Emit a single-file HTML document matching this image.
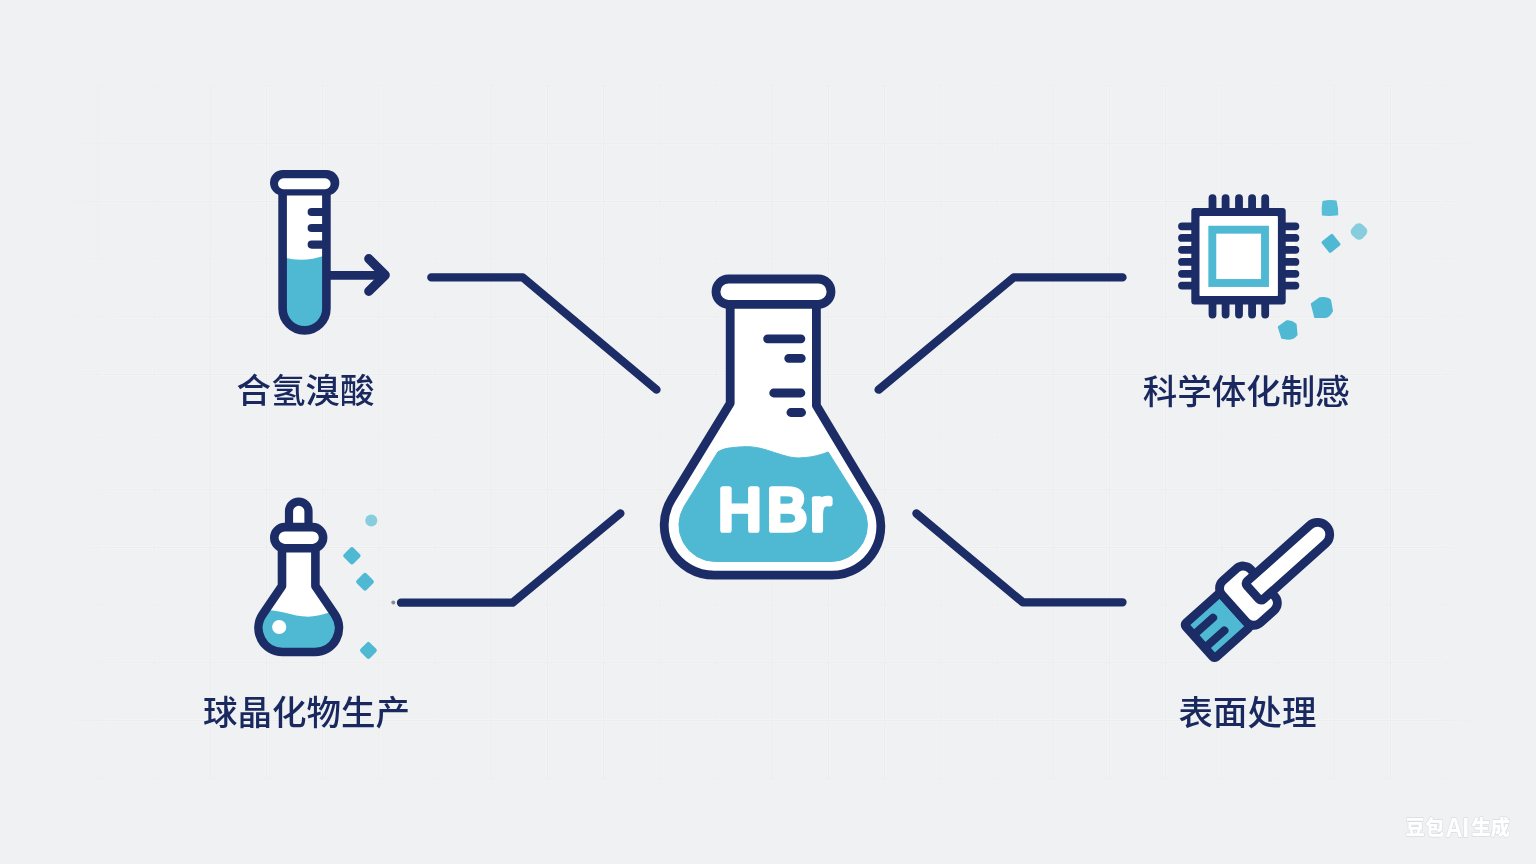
<!DOCTYPE html>
<html lang="zh-CN">
<head>
<meta charset="utf-8">
<title>HBr 应用示意图</title>
<style>
html,body{margin:0;padding:0;width:1536px;height:864px;overflow:hidden;background:#f0f1f2}
svg{display:block;position:absolute;left:0;top:0;will-change:transform;opacity:0.999}
text{font-family:"Liberation Sans","Noto Sans CJK SC",sans-serif}
</style>
</head>
<body>
<svg width="1536" height="864" viewBox="0 0 1536 864">
<defs>
<linearGradient id="fh" x1="0" x2="1536" y1="0" y2="0" gradientUnits="userSpaceOnUse"><stop offset="0" stop-color="#000"/><stop offset="0.035" stop-color="#000"/><stop offset="0.075" stop-color="#fff"/><stop offset="0.93" stop-color="#fff"/><stop offset="0.965" stop-color="#000"/><stop offset="1" stop-color="#000"/></linearGradient>
<mask id="gm" maskUnits="userSpaceOnUse" x="0" y="0" width="1536" height="864"><rect x="0" y="85" width="1536" height="694" fill="url(#fh)"/></mask>
</defs>
<rect width="1536" height="864" fill="#f0f1f2"/>
<g mask="url(#gm)"><g stroke="#fff" stroke-width="2.6" opacity="0.26"><line x1="41.6" y1="0" x2="41.6" y2="864"/><line x1="97.8" y1="0" x2="97.8" y2="864"/><line x1="154.0" y1="0" x2="154.0" y2="864"/><line x1="210.2" y1="0" x2="210.2" y2="864"/><line x1="266.4" y1="0" x2="266.4" y2="864"/><line x1="322.6" y1="0" x2="322.6" y2="864"/><line x1="378.8" y1="0" x2="378.8" y2="864"/><line x1="435.0" y1="0" x2="435.0" y2="864"/><line x1="491.2" y1="0" x2="491.2" y2="864"/><line x1="547.4" y1="0" x2="547.4" y2="864"/><line x1="603.6" y1="0" x2="603.6" y2="864"/><line x1="659.8" y1="0" x2="659.8" y2="864"/><line x1="716.0" y1="0" x2="716.0" y2="864"/><line x1="772.2" y1="0" x2="772.2" y2="864"/><line x1="828.4" y1="0" x2="828.4" y2="864"/><line x1="884.6" y1="0" x2="884.6" y2="864"/><line x1="940.8" y1="0" x2="940.8" y2="864"/><line x1="997.0" y1="0" x2="997.0" y2="864"/><line x1="1053.2" y1="0" x2="1053.2" y2="864"/><line x1="1109.4" y1="0" x2="1109.4" y2="864"/><line x1="1165.6" y1="0" x2="1165.6" y2="864"/><line x1="1221.8" y1="0" x2="1221.8" y2="864"/><line x1="1278.0" y1="0" x2="1278.0" y2="864"/><line x1="1334.2" y1="0" x2="1334.2" y2="864"/><line x1="1390.4" y1="0" x2="1390.4" y2="864"/><line x1="1446.6" y1="0" x2="1446.6" y2="864"/><line x1="1502.8" y1="0" x2="1502.8" y2="864"/><line x1="0" y1="28.4" x2="1536" y2="28.4"/><line x1="0" y1="86.1" x2="1536" y2="86.1"/><line x1="0" y1="143.7" x2="1536" y2="143.7"/><line x1="0" y1="201.4" x2="1536" y2="201.4"/><line x1="0" y1="259.1" x2="1536" y2="259.1"/><line x1="0" y1="316.8" x2="1536" y2="316.8"/><line x1="0" y1="374.4" x2="1536" y2="374.4"/><line x1="0" y1="432.1" x2="1536" y2="432.1"/><line x1="0" y1="489.8" x2="1536" y2="489.8"/><line x1="0" y1="547.4" x2="1536" y2="547.4"/><line x1="0" y1="605.1" x2="1536" y2="605.1"/><line x1="0" y1="662.8" x2="1536" y2="662.8"/><line x1="0" y1="720.4" x2="1536" y2="720.4"/><line x1="0" y1="778.1" x2="1536" y2="778.1"/><line x1="0" y1="835.8" x2="1536" y2="835.8"/></g><g stroke="#d4d6db" stroke-width="0.9" opacity="0.3"><line x1="41.6" y1="0" x2="41.6" y2="864"/><line x1="97.8" y1="0" x2="97.8" y2="864"/><line x1="154.0" y1="0" x2="154.0" y2="864"/><line x1="210.2" y1="0" x2="210.2" y2="864"/><line x1="266.4" y1="0" x2="266.4" y2="864"/><line x1="322.6" y1="0" x2="322.6" y2="864"/><line x1="378.8" y1="0" x2="378.8" y2="864"/><line x1="435.0" y1="0" x2="435.0" y2="864"/><line x1="491.2" y1="0" x2="491.2" y2="864"/><line x1="547.4" y1="0" x2="547.4" y2="864"/><line x1="603.6" y1="0" x2="603.6" y2="864"/><line x1="659.8" y1="0" x2="659.8" y2="864"/><line x1="716.0" y1="0" x2="716.0" y2="864"/><line x1="772.2" y1="0" x2="772.2" y2="864"/><line x1="828.4" y1="0" x2="828.4" y2="864"/><line x1="884.6" y1="0" x2="884.6" y2="864"/><line x1="940.8" y1="0" x2="940.8" y2="864"/><line x1="997.0" y1="0" x2="997.0" y2="864"/><line x1="1053.2" y1="0" x2="1053.2" y2="864"/><line x1="1109.4" y1="0" x2="1109.4" y2="864"/><line x1="1165.6" y1="0" x2="1165.6" y2="864"/><line x1="1221.8" y1="0" x2="1221.8" y2="864"/><line x1="1278.0" y1="0" x2="1278.0" y2="864"/><line x1="1334.2" y1="0" x2="1334.2" y2="864"/><line x1="1390.4" y1="0" x2="1390.4" y2="864"/><line x1="1446.6" y1="0" x2="1446.6" y2="864"/><line x1="1502.8" y1="0" x2="1502.8" y2="864"/><line x1="0" y1="28.4" x2="1536" y2="28.4"/><line x1="0" y1="86.1" x2="1536" y2="86.1"/><line x1="0" y1="143.7" x2="1536" y2="143.7"/><line x1="0" y1="201.4" x2="1536" y2="201.4"/><line x1="0" y1="259.1" x2="1536" y2="259.1"/><line x1="0" y1="316.8" x2="1536" y2="316.8"/><line x1="0" y1="374.4" x2="1536" y2="374.4"/><line x1="0" y1="432.1" x2="1536" y2="432.1"/><line x1="0" y1="489.8" x2="1536" y2="489.8"/><line x1="0" y1="547.4" x2="1536" y2="547.4"/><line x1="0" y1="605.1" x2="1536" y2="605.1"/><line x1="0" y1="662.8" x2="1536" y2="662.8"/><line x1="0" y1="720.4" x2="1536" y2="720.4"/><line x1="0" y1="778.1" x2="1536" y2="778.1"/><line x1="0" y1="835.8" x2="1536" y2="835.8"/></g></g>
<g fill="none" stroke="#1b2c67" stroke-width="8.3" stroke-linecap="round" stroke-linejoin="round"><polyline points="431.3,277.4 522.7,277.4 656.5,389.6"/><polyline points="401,602.7 512.5,602.7 620.4,513.4"/><polyline points="878.6,389.7 1013.8,277.4 1122.5,277.4"/><polyline points="916.4,513.5 1022.8,602.3 1122.5,602.3"/></g>
<circle cx="393.3" cy="602.4" r="2" fill="#8a8d94"/>
<g>
<path d="M282.5,190 V308.5 a22,22 0 0 0 44,0 V190 Z" fill="#fff"/>
<path d="M284,257.6 Q304,262.8 325,255.6 V308.5 a20.5,20.5 0 0 1 -41,0 Z" fill="#4fb9d4"/>
<g fill="none" stroke="#1b2c67" stroke-linecap="round" stroke-linejoin="round">
<path d="M282.6,190 V308.5 a21.9,21.9 0 0 0 43.8,0 V190" stroke-width="8.6"/>
<path d="M311.7,212 H324 M311.7,228 H324 M311.7,244.6 H324" stroke-width="8.2"/>
<path d="M330,275.4 H384" stroke-width="8.8"/>
<path d="M368.8,258.7 L385.2,275.1 L368.8,291.3" stroke-width="9.3"/>
</g>
<rect x="270" y="170" width="69.3" height="25.4" rx="12.7" fill="#1b2c67"/>
<rect x="278" y="178.3" width="52.6" height="10.9" rx="5.45" fill="#fff"/>
</g>
<g>
<path d="M730.20,304.00 V403.30 L671.57,499.10 A50.00,50.00 0 0 0 714.22,575.20 H832.03 A48.80,48.80 0 0 0 873.88,501.29 L816.40,405.50 V304.00 Z" fill="#fff"/>
<path d="M718.10,451.60 C719.65,451.05 722.72,449.12 727.40,448.30 C732.08,447.48 740.72,446.70 746.20,446.70 C751.68,446.70 755.62,447.33 760.30,448.30 C764.98,449.27 769.62,451.10 774.30,452.50 C778.98,453.90 784.18,455.80 788.40,456.70 C792.62,457.60 795.70,457.90 799.60,457.90 C803.50,457.90 808.20,457.28 811.80,456.70 C815.40,456.12 818.47,455.18 821.20,454.40 C823.93,453.62 827.03,452.40 828.20,452.00 L861.98,505.92 A36.4,36.4 0 0 1 831.04,561.5 H715.36 A36.4,36.4 0 0 1 684.42,505.92 Z" fill="#4fb9d4" stroke="#4fb9d4" stroke-width="1" stroke-linejoin="round"/>
<g fill="none" stroke="#1b2c67" stroke-linecap="round" stroke-linejoin="round">
<path d="M730.20,304.00 V403.30 L671.57,499.10 A50.00,50.00 0 0 0 714.22,575.20 H832.03 A48.80,48.80 0 0 0 873.88,501.29 L816.40,405.50 V304.00" stroke-width="8.8"/>
<path d="M767.6,338.8 H800.9 M788.7,358.3 H801.3 M773.7,393 H800.9 M790.9,412.5 H801.6" stroke-width="8.8"/>
<rect x="716" y="279" width="115" height="25.4" rx="12.7" fill="#fff" stroke-width="8.8"/>
</g>
<text transform="scale(1.05 1.04)" x="684.00 730.38 772.10" y="510.10" font-size="57" font-weight="400" fill="#fff" stroke="#fff" stroke-width="5.5" stroke-linejoin="round">HBr</text>
</g>
<g>
<path d="M282.00,548.00 V586.00 L262.62,614.50 A24.00,24.00 0 0 0 282.46,652.00 H314.94 A24.00,24.00 0 0 0 334.78,614.50 L315.40,586.00 V548.00 Z" fill="#fff"/>
<clipPath id="c2"><path d="M282.00,548.00 V586.00 L262.62,614.50 A24.00,24.00 0 0 0 282.46,652.00 H314.94 A24.00,24.00 0 0 0 334.78,614.50 L315.40,586.00 V548.00 Z"/></clipPath>
<path clip-path="url(#c2)" d="M255,611.5 C262,609 272,609.5 284,612.5 S306,618.3 318,615.6 S332,611 345,609.5 V660 H255 Z" fill="#4fb9d4"/>
<circle cx="279.2" cy="627" r="7.1" fill="#fff"/>
<g fill="none" stroke="#1b2c67" stroke-linecap="round" stroke-linejoin="round">
<path d="M289,528 V511.4 a9.75,9.75 0 0 1 19.5,0 V528" fill="#fff" stroke-width="8.2"/>
<path d="M282.00,548.00 V586.00 L262.62,614.50 A24.00,24.00 0 0 0 282.46,652.00 H314.94 A24.00,24.00 0 0 0 334.78,614.50 L315.40,586.00 V548.00" stroke-width="8.6"/>
<rect x="274.3" y="527.1" width="48.8" height="21.1" rx="10.5" fill="#fff" stroke-width="8.6"/>
</g></g>
<circle cx="371.3" cy="520.4" r="6" fill="#86cedd"/>
<rect x="345.11" y="549.01" width="13.58" height="13.58" rx="2.2" fill="#4fb9d4" transform="rotate(45 351.9 555.8)"/>
<rect x="358.07" y="574.87" width="13.86" height="13.86" rx="2.2" fill="#4fb9d4" transform="rotate(45 365 581.8)"/>
<rect x="361.82" y="643.82" width="13.15" height="13.15" rx="2.2" fill="#4fb9d4" transform="rotate(45 368.4 650.4)"/>
<g>
<rect x="1181.5" y="226.3" width="113.6" height="59.3" fill="#fff" opacity="0.6"/>
<path d="M1212.5,198.2 V314.6 M1225.6,198.2 V314.6 M1239,198.2 V314.6 M1252.1,198.2 V314.6 M1265.2,198.2 V314.6 M1182,226.3 H1295.4 M1182,237.9 H1295.4 M1182,249.8 H1295.4 M1182,261.9 H1295.4 M1182,273.8 H1295.4 M1182,285.6 H1295.4" fill="none" stroke="#1b2c67" stroke-width="7.8" stroke-linecap="round"/>
<rect x="1191.3" y="208" width="94.4" height="96.4" rx="3" fill="#1b2c67"/><rect x="1199.5" y="216.1" width="78.4" height="80" rx="0.8" fill="#fff"/>
<rect x="1212.3" y="229.7" width="52.7" height="53.3" fill="#fff" stroke="#4fb9d4" stroke-width="7.9"/>
</g>
<path d="M1322.5,201 Q1330,199.3 1336.5,200.6 Q1338.5,208 1338.2,215.2 Q1330,216.4 1322,215.6 Q1321,208 1322.5,201 Z" fill="#4fb9d4" opacity="0.95"/>
<rect x="1351.6" y="224.1" width="14.8" height="14.8" rx="5.2" fill="#86cedd" transform="rotate(42 1359 231.5)"/>
<rect x="1323.79" y="236.19" width="14.42" height="14.42" rx="1.6" fill="#4fb9d4" transform="rotate(51 1331 243.4)"/>
<path d="M1311.6,304 L1320,298 Q1327.5,297 1330.3,300.3 L1332.2,310.8 Q1329.5,316.5 1325,317.3 L1315,317.3 Z" fill="#4fb9d4" stroke="#4fb9d4" stroke-width="1.6" stroke-linejoin="round"/>
<path d="M1278.6,327 L1287,321 Q1291.8,321 1295.8,324.3 L1296.8,334.8 Q1293.6,339 1288,339 L1282,338 Z" fill="#4fb9d4" stroke="#4fb9d4" stroke-width="1.6" stroke-linejoin="round"/>
<g transform="translate(1317.6 534.5) rotate(-41.8)" stroke="#1b2c67" stroke-linecap="round" stroke-linejoin="round">
<rect x="-159.6" y="-21.8" width="48.2" height="45.6" rx="2.5" fill="#4fb9d4" stroke-width="8.8"/>
<path d="M-159,-7.6 H-133.5 M-159,9.4 H-133.5" fill="none" stroke-width="8.2"/>
<rect x="-111.5" y="-28.6" width="38.4" height="56.2" rx="10" fill="#fff" stroke-width="8.8"/>
<path d="M-83.8,-12.1 H0 A12.1,12.1 0 0 1 0,12.1 H-83.8 a3,3 0 0 1 -3,-3 V-9.1 a3,3 0 0 1 3,-3 Z" fill="#fff" stroke-width="8.8"/>
</g>
<text x="305.5" y="402.9" text-anchor="middle" font-size="34.5" font-weight="500" fill="#19295f">合氢溴酸</text>
<text x="306.4" y="724.5" text-anchor="middle" font-size="34.5" font-weight="500" fill="#19295f">球晶化物生产</text>
<text x="1246.3" y="404.1" text-anchor="middle" font-size="34.5" font-weight="500" fill="#19295f">科学体化制感</text>
<text x="1247.4" y="724.8" text-anchor="middle" font-size="34.5" font-weight="500" fill="#19295f">表面处理</text>
<text x="1405.6" y="835.2" font-size="20.4" font-weight="900" fill="#fff" style="paint-order:stroke" stroke="#c9cbd0" stroke-opacity="0.55" stroke-width="1.3" stroke-linejoin="round"><tspan textLength="38.6" lengthAdjust="spacingAndGlyphs">豆包</tspan><tspan x="1445.4" y="837.2" font-size="27.6" font-weight="700" textLength="23.8" lengthAdjust="spacingAndGlyphs">AI</tspan><tspan x="1471.4" y="835.2" textLength="38.6" lengthAdjust="spacingAndGlyphs">生成</tspan></text>
</svg>
</body>
</html>
